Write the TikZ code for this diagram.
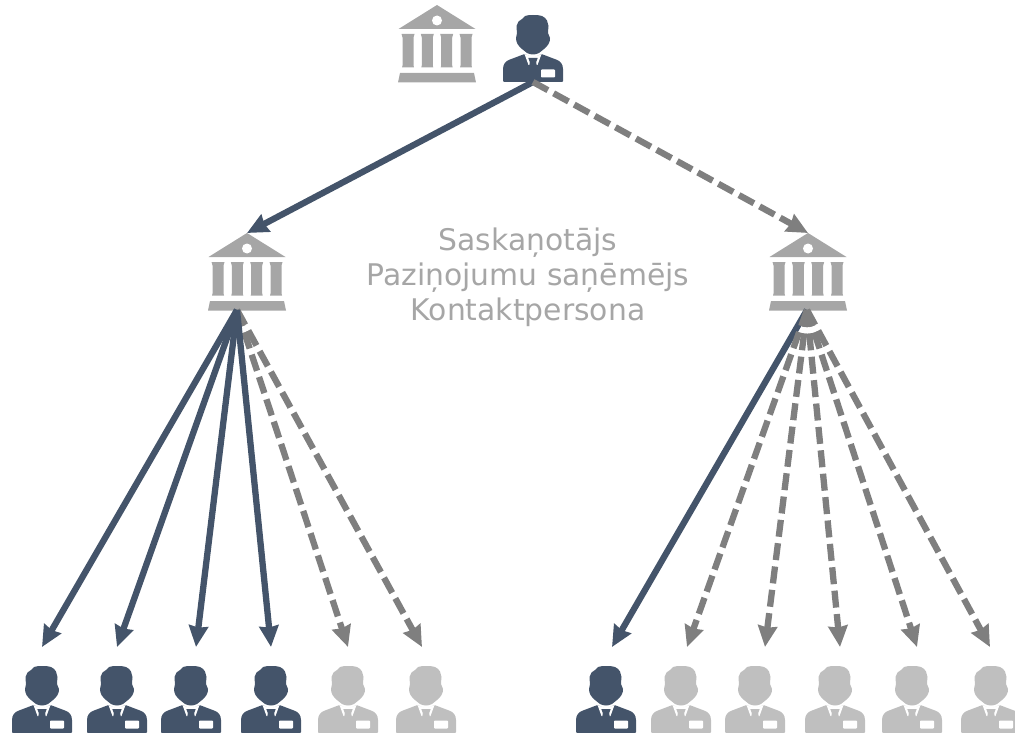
\documentclass[tikz,border=0pt]{standalone}
\usepackage{fontspec}
\setmainfont{DejaVu Sans}
\usetikzlibrary{arrows.meta}
\definecolor{darkblue}{HTML}{44546A}
\definecolor{bankgray}{HTML}{A6A6A6}
\definecolor{palegray}{HTML}{BFBFBF}
\definecolor{linegray}{HTML}{7F7F7F}
\tikzset{
	solidline/.style={darkblue,line width=6.3pt,-{Stealth[length=21pt,width=19pt,inset=1.5pt]}},
	dashline/.style={linegray,line width=6.3pt,dash pattern=on 17pt off 6.5pt,-{Stealth[length=21pt,width=19pt,inset=1.5pt]}},
	person/.pic={
		\begin{scope}[yscale=-1]
			%head
			\fill[pic actions] plot[smooth cycle,tension=.7] coordinates {(0,67) (9,66) (14,61.5) (15.5,56) (15,49) (17,44) (15.5,38) (11,33) (6,29) (0,27.5) (-6,29) (-11,33) (-15.5,38) (-17,44) (-16,49) (-16.5,56) (-14.5,60.5) (-11,63) (-8,66)};
			%body
			\fill[pic actions,rounded corners=1pt] (-30,0) -- (-30,12) .. controls (-30,18) and (-27,21) .. (-23,22.5) -- (-8.5,28) -- (0,24) -- (8.5,28) -- (23,22.5) .. controls (27,21) and (30,18) .. (30,12) -- (30,0) -- cycle;
			%collar
			\fill[white] (-8.5,28) -- (-4.5,17) -- (4.5,17) -- (8.5,28) -- (6,27) -- (0,25) -- (-6,27) -- cycle;
			\fill[pic actions] (-4.7,24) -- (4.7,24) -- (3.2,20) -- (3.8,15.5) -- (-3.8,15.5) -- (-3.2,20) -- cycle;
			%badge
			\fill[white,rounded corners=.8pt] (8,4.5) rectangle (22,12.5);
		\end{scope}
	},
	bank/.pic={
		\begin{scope}[yscale=-1]
			%roof
			\fill[bankgray] (0,77.5) -- (-38.5,53.5) -- (38.5,53.5) -- cycle;
			\fill[white] (0,62) circle (5);
			%columns
			\foreach \c in {-29,-9.7,9.7,29}
				\fill[bankgray] (\c-6.5,48.5) -- (\c+6.5,48.5) -- (\c+5.5,45) -- (\c+5.5,17) -- (\c+6,15) -- (\c-6,15) -- (\c-5.5,17) -- (\c-5.5,45) -- cycle;
			%base
			\fill[bankgray] (-39,0) -- (39,0) -- (37,9.5) -- (-37,9.5) -- cycle;
		\end{scope}
	}
}
\begin{document}
\begin{tikzpicture}[x=1pt,y=-1pt]
	\useasboundingbox (0,0) rectangle (1015,733);
	\clip (0,0) rectangle (1015,733);
	\def\base{733}
	%top row
	\pic at (437,82.5) {bank};
	\pic[darkblue] at (533,82) {person};
	\coordinate (boss) at (533,82);
	%middle banks
	\coordinate (bankL) at (247,233);
	\coordinate (bankR) at (808,233);
	\coordinate (rootL) at (237,310);
	\coordinate (rootR) at (807,310);
	\pic at (247,310.5) {bank};
	\pic at (808,310.5) {bank};
	\draw[solidline] (boss) -- (bankL);
	\draw[dashline] (boss) -- (bankR);
	%text
	\node[bankgray,font=\fontsize{29.8}{35}\selectfont,align=center] (roles) at (528,277) {Saskaņotājs\\Paziņojumu saņēmējs\\Kontaktpersona};
	%left people
	\foreach \x/\t/\n in {348/348/5,426/422/6}{
		\pic[palegray] at (\x,\base) {person};
		\coordinate (tipL\n) at (\t,647);
		\draw[dashline] (rootL) -- (tipL\n);
	}
	\foreach \x/\t/\n in {42/42/1,117/117/2,191/196/3,271/271/4}{
		\pic[darkblue] at (\x,\base) {person};
		\coordinate (tipL\n) at (\t,647);
		\draw[solidline] (rootL) -- (tipL\n);
	}
	%right people
	\pic[darkblue] at (606,\base) {person};
	\coordinate (tipR1) at (612,647);
	\draw[solidline] (rootR) -- (tipR1);
	\foreach \x/\t/\n in {681/687/2,755/765/3,835/840/4,912/917/5,991/990/6}{
		\pic[palegray] at (\x,\base) {person};
		\coordinate (tipR\n) at (\t,647);
		\draw[dashline] (rootR) -- (tipR\n);
	}
\end{tikzpicture}
\end{document}
